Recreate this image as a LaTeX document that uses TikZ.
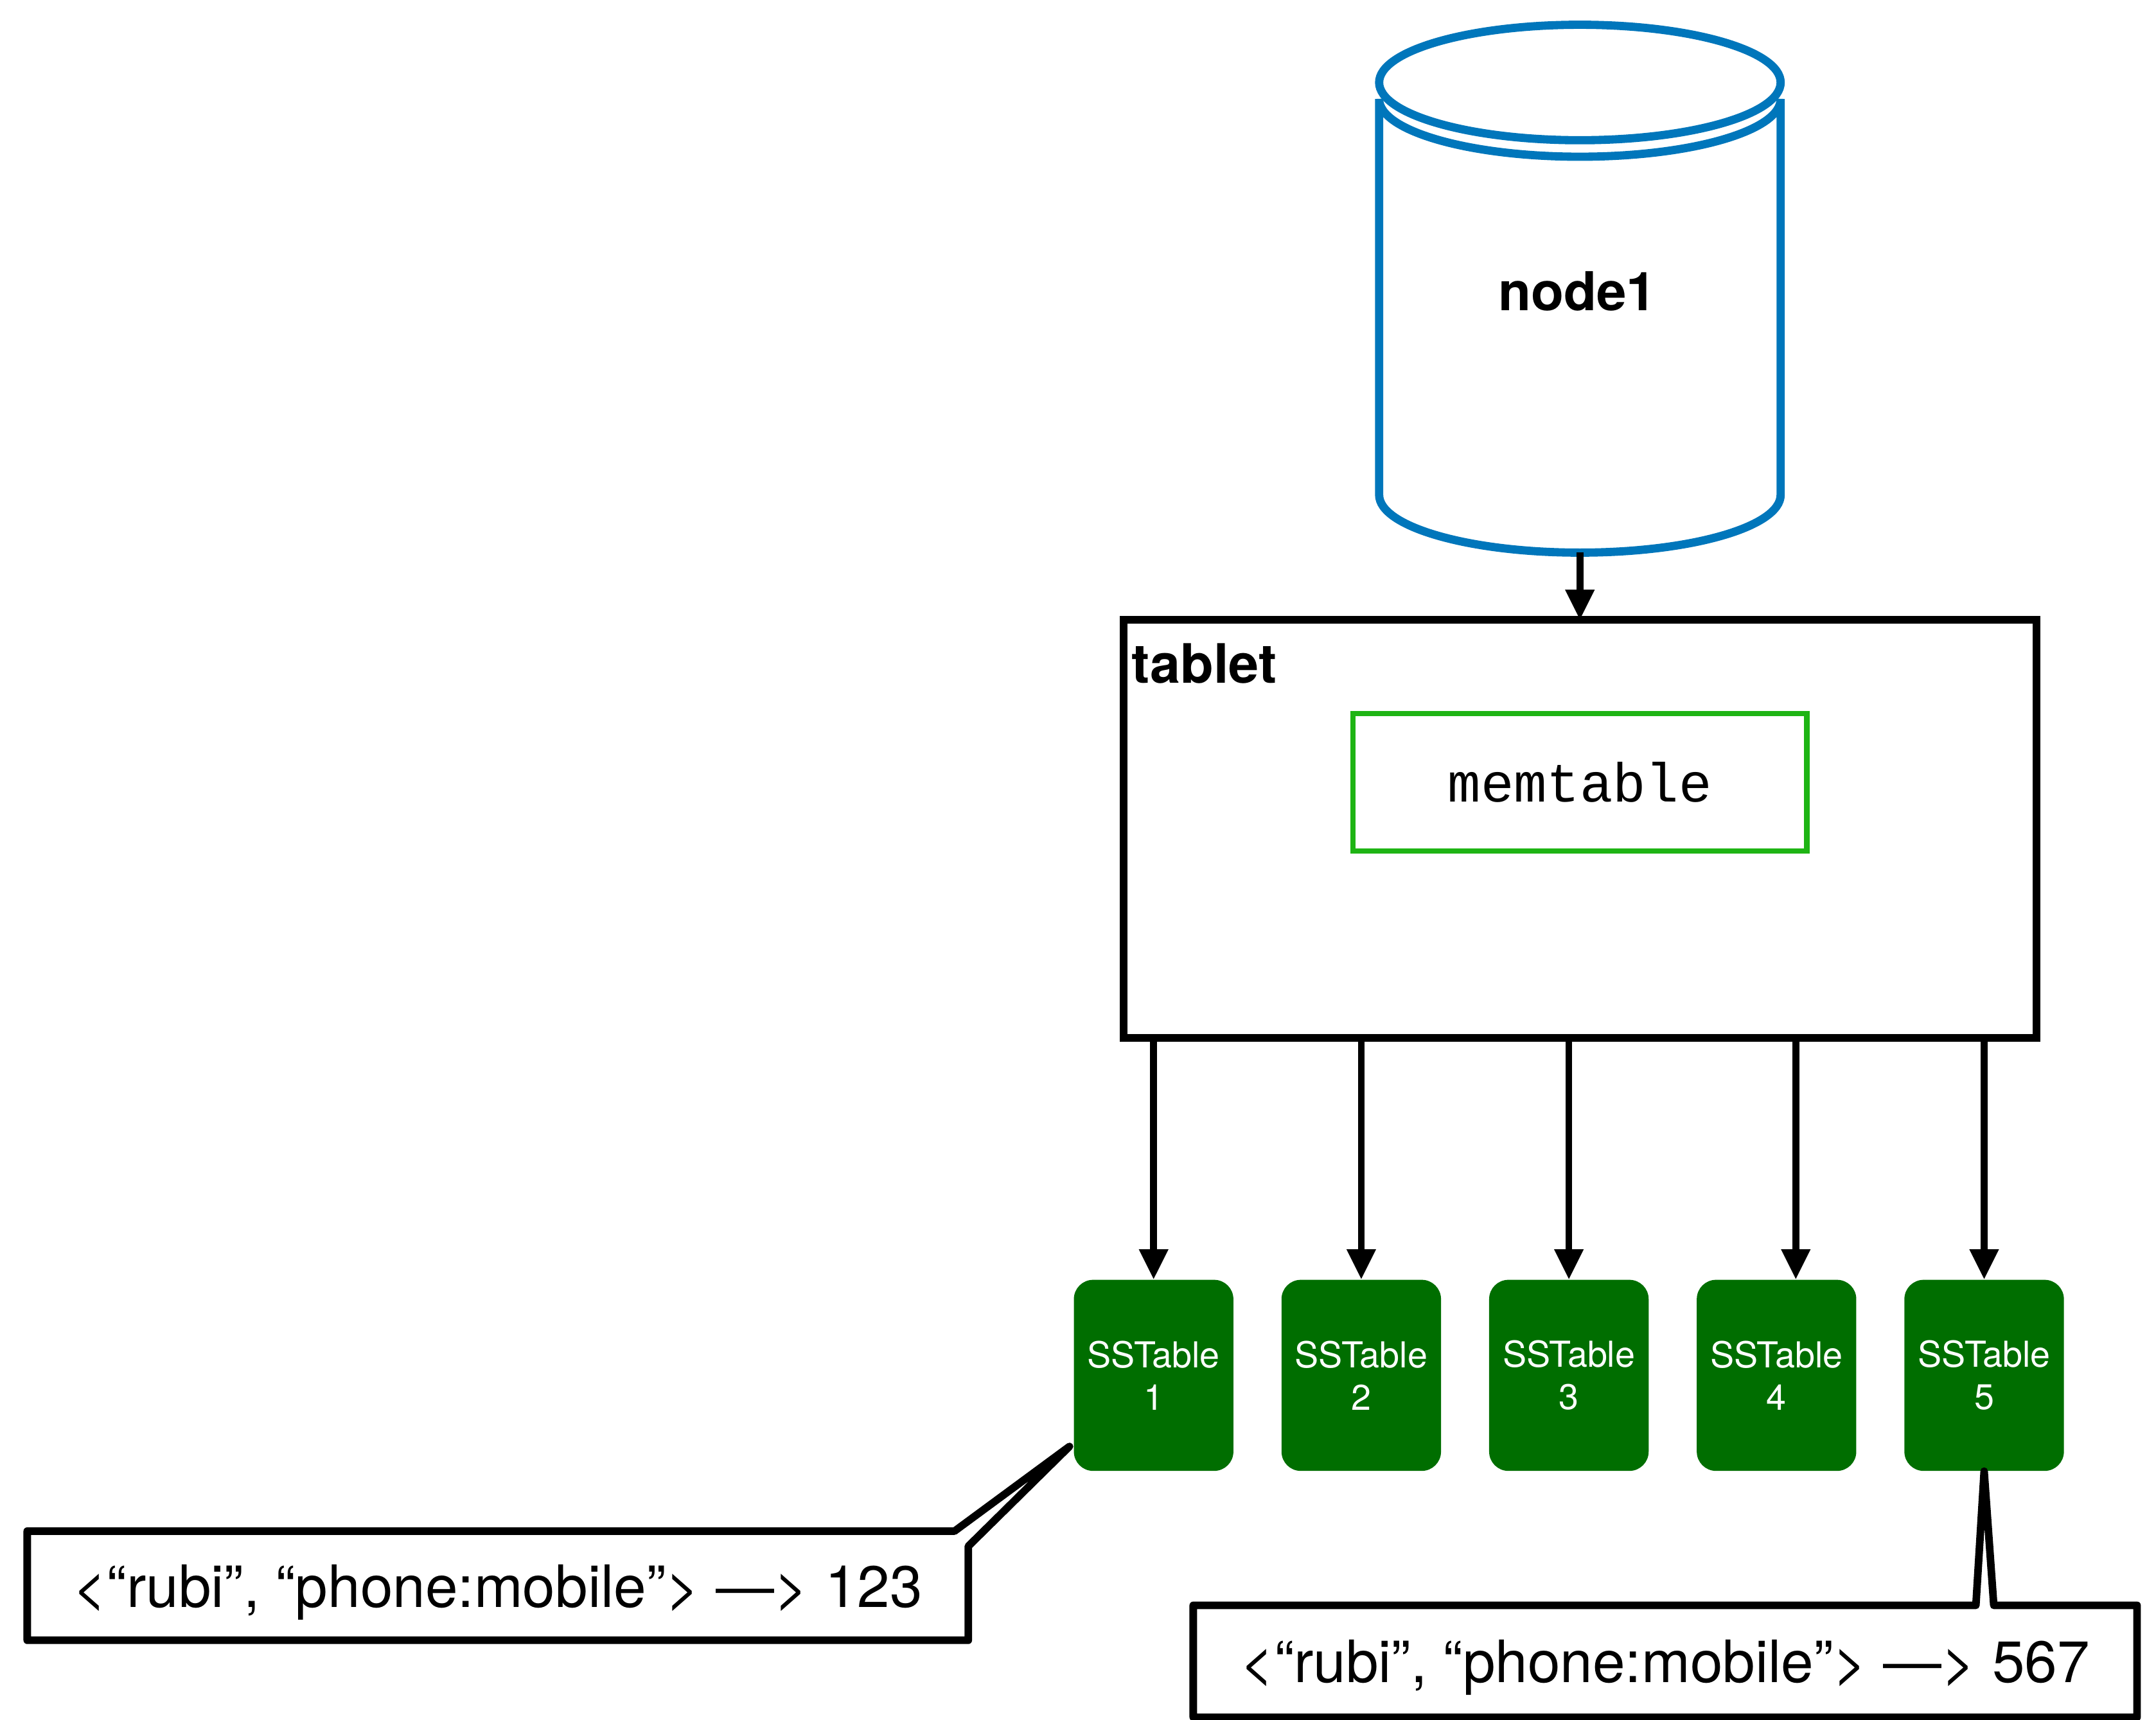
\documentclass[tikz,border=0pt]{standalone}
\usepackage{fontspec}
\setmainfont{TeX Gyre Heros}
\setmonofont{Liberation Mono}
\usepackage{tikz}
\usetikzlibrary{arrows.meta}
\definecolor{dbblue}{RGB}{0,118,187}
\definecolor{memgreen}{RGB}{30,180,20}
\definecolor{ssgreen}{RGB}{0,110,0}

\begin{document}
\begin{tikzpicture}[x=1pt, y=-1pt,
  arr/.style={line width=5pt, -{Triangle[length=22pt, width=20pt]}},
  sstable/.style={fill=ssgreen, rounded corners=14pt, minimum width=116pt, minimum height=139pt,
    text=white, align=center, inner sep=0pt, font=\fontsize{26}{31}\selectfont},
  callout/.style={draw=black, line width=5.5pt, line join=round},
  keytext/.style={inner sep=0pt, text depth=0pt, font=\fontsize{42.5}{48}\selectfont}]
  \useasboundingbox (0,0) rectangle (1568,1251);
  \draw[dbblue, line width=6pt] (1149,60) ellipse [x radius=146pt, y radius=42pt];
  \draw[dbblue, line width=6pt] (1003,72) arc[start angle=180, end angle=360, x radius=146pt, y radius=42pt]
    -- (1295,360) arc[start angle=0, end angle=-180, x radius=146pt, y radius=42pt] -- cycle;
  \node[font=\fontsize{39}{44}\selectfont\bfseries] (db) at (1147,212) {node1};
  \coordinate (dbbase) at (1149,402);
  \node[draw, line width=5.5pt, outer sep=0pt, minimum width=664pt, minimum height=304pt, anchor=north west] (tablet) at (817,451) {};
  \node[inner sep=0pt, anchor=base west, font=\fontsize{39.5}{44}\selectfont\bfseries] (tabletlabel) at (823,497) {tablet};
  \node[draw=memgreen, line width=4pt, minimum width=330pt, minimum height=100pt,
    font=\ttfamily\fontsize{40}{44}\selectfont] (mem) at (1149,569) {memtable};
  \draw[arr] (dbbase) -- (tablet.north);
  \node[sstable] (ss1) at (839,1000.5) {SSTable\\1};
  \node[sstable] (ss2) at (990,1000.5) {SSTable\\2};
  \node[sstable] (ss3) at (1141,1000.5) {SSTable\\3};
  \node[sstable] (ss4) at (1292,1000.5) {SSTable\\4};
  \node[sstable] (ss5) at (1443,1000.5) {SSTable\\5};
  \coordinate (ss4top) at ([xshift=14pt]ss4.north);
  \draw[arr] (tablet.south -| ss1.north) -- (ss1.north);
  \draw[arr] (tablet.south -| ss2.north) -- (ss2.north);
  \draw[arr] (tablet.south -| ss3.north) -- (ss3.north);
  \draw[arr] (tablet.south -| ss4top) -- (ss4top);
  \draw[arr] (tablet.south -| ss5.north) -- (ss5.north);
  \node[keytext, minimum width=684pt, minimum height=79pt] (key1) at (362,1153.5) {<“rubi”, “phone:mobile”> —> 123};
  \coordinate (tip1) at ([xshift=-3pt, yshift=18pt]ss1.south west);
  \draw[callout] (key1.north west) -- ([xshift=-10pt]key1.north east) -- (tip1)
    -- ([yshift=-11pt]key1.north east) -- (key1.south east) -- (key1.south west) -- cycle;
  \node[keytext, minimum width=686pt, minimum height=81pt] (key2) at (1211,1208.5) {<“rubi”, “phone:mobile”> —> 567};
  \coordinate (p2a) at ([xshift=-6pt]ss5.south);
  \coordinate (p2b) at ([xshift=7pt]ss5.south);
  \draw[callout] (key2.north west) -- (p2a |- key2.north) -- (ss5.south) -- (p2b |- key2.north)
    -- (key2.north east) -- (key2.south east) -- (key2.south west) -- cycle;
\end{tikzpicture}
\end{document}
